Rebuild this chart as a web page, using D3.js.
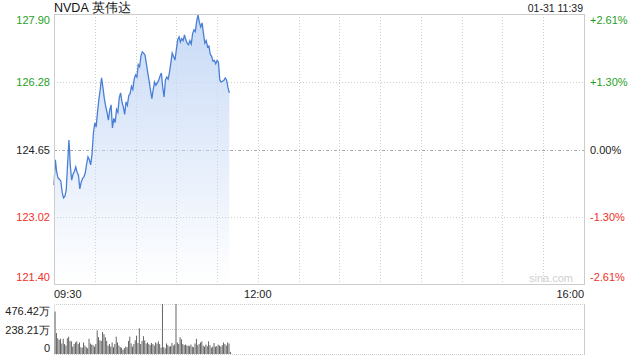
<!DOCTYPE html>
<html>
<head>
<meta charset="utf-8">
<script src="https://cdn.jsdelivr.net/npm/d3@7"></script>
<style>
  body { margin: 0; background: #fff; }
  svg text { font-family: "Liberation Sans", Arial, sans-serif; }
</style>
</head>
<body>
<div id="chart"></div>
<script>
const width = 640;
const height = 360;

// minutes after 09:30, one point per minute up to 11:39
const prices = [
    123.79, 124.40, 124.10, 123.96, 123.93, 123.89, 123.62, 123.48, 123.52, 123.67,
    124.30, 124.88, 124.25, 123.91, 124.05, 124.12, 124.23, 124.10, 124.03, 123.70,
    123.86, 123.95, 123.99, 124.08, 124.30, 124.47, 124.40, 124.28, 124.55, 125.05,
    125.29, 125.19, 125.55, 125.85, 126.10, 126.38, 126.15, 125.89, 125.70, 125.55,
    125.36, 125.60, 125.73, 125.17, 125.40, 125.30, 125.62, 125.55, 125.90, 126.02,
    125.80, 125.68, 125.50, 125.80, 125.72, 125.95, 126.00, 126.18, 126.10, 126.35,
    126.45, 126.40, 126.70, 126.65, 126.92, 127.01, 126.98, 126.93, 126.72, 126.50,
    126.30, 126.09, 125.88, 126.10, 126.28, 126.20, 126.26, 126.32, 126.42, 126.50,
    126.15, 125.92, 126.33, 126.40, 126.35, 126.52, 126.75, 126.98, 126.90, 126.81,
    127.05, 127.30, 127.37, 127.25, 127.33, 127.28, 127.42, 127.30, 127.22, 127.18,
    127.28, 127.20, 127.45, 127.54, 127.50, 127.75, 127.90, 127.72, 127.61, 127.71,
    127.45, 127.22, 127.28, 127.13, 127.15, 126.95, 126.90, 126.78, 126.80, 126.72,
    126.80, 126.76, 126.33, 126.28, 126.30, 126.32, 126.38, 126.33, 126.15, 126.02
];

// volume per minute, in 万
const volumes = [
    405, 200, 150, 135, 145, 100, 145, 95, 80, 150,
    165, 125, 120, 70, 95, 110, 120, 95, 110, 65,
    60, 110, 80, 65, 55, 145, 100, 90, 85, 70,
    95, 225, 160, 130, 125, 210, 190, 160, 125, 80,
    95, 70, 110, 65, 95, 165, 110, 80, 65, 60,
    40, 55, 70, 65, 125, 165, 100, 70, 95, 130,
    175, 105, 245, 95, 125, 170, 130, 100, 110, 95,
    85, 105, 95, 80, 110, 100, 120, 95, 60, 476.42,
    65, 55, 100, 85, 70, 75, 105, 80, 90, 476.42,
    110, 95, 160, 140, 95, 85, 90, 80, 80, 75,
    90, 70, 65, 100, 145, 85, 95, 110, 120, 80,
    70, 90, 75, 120, 85, 60, 70, 105, 70, 75,
    90, 80, 70, 85, 110, 95, 80, 110, 100, 20
];

const priceTicks = [127.90, 126.28, 124.65, 123.02, 121.40];
const pctTicks = ["+2.61%", "+1.30%", "0.00%", "-1.30%", "-2.61%"];
const prevClose = 124.65;
const volTicks = [476.42, 238.21, 0];
const volLabels = ["476.42万", "238.21万", "0"];
const timeLabels = [{ m: 0, t: "09:30" }, { m: 150, t: "12:00" }, { m: 390, t: "16:00" }];
const gridMinutes = d3.range(30, 390, 30);

const pLeft = 54, pRight = 584;
const pTop = 14, pBottom = 284;
const vTop = 304, vBottom = 354;

const x = d3.scaleLinear().domain([0, 390]).range([pLeft, pRight]);
const y = d3.scaleLinear().domain([121.40, 127.90]).range([pBottom, pTop + 1]);
const yv = d3.scaleLinear().domain([0, 476.42]).range([vBottom, vTop]);

const green = "#1f9f1f", red = "#f0302a", grid = "#cfcfcf";

const svg = d3.select("#chart").append("svg")
    .attr("width", width)
    .attr("height", height);

const grad = svg.append("defs").append("linearGradient")
    .attr("id", "fill")
    .attr("gradientUnits", "userSpaceOnUse")
    .attr("x1", 0).attr("y1", pTop).attr("x2", 0).attr("y2", pBottom);
grad.append("stop").attr("offset", 0).attr("stop-color", "#c8daf6");
grad.append("stop").attr("offset", 1).attr("stop-color", "#c8daf6").attr("stop-opacity", 0);

// vertical grid
svg.selectAll(".vg")
    .data(gridMinutes)
    .join("line")
    .attr("x1", d => Math.round(x(d)) + 0.5).attr("x2", d => Math.round(x(d)) + 0.5)
    .attr("y1", pTop).attr("y2", pBottom)
    .attr("stroke", grid)
    .attr("stroke-dasharray", "1,2");

// horizontal grid
svg.selectAll(".hg")
    .data(priceTicks.slice(1, 4))
    .join("line")
    .attr("x1", pLeft).attr("x2", pRight)
    .attr("y1", d => Math.round(y(d)) + 0.5).attr("y2", d => Math.round(y(d)) + 0.5)
    .attr("stroke", d => d === prevClose ? "#aaa" : grid)
    .attr("stroke-dasharray", d => d === prevClose ? "3,2,1,2" : "1,2");

// area + line
const area = d3.area()
    .x((d, i) => x(i))
    .y0(pBottom)
    .y1(d => y(d));
svg.append("path")
    .datum(prices)
    .attr("d", area)
    .attr("fill", "url(#fill)");

const line = d3.line()
    .x((d, i) => x(i))
    .y(d => y(d));
svg.append("path")
    .datum(prices)
    .attr("d", line)
    .attr("fill", "none")
    .attr("stroke", "#4a7fd6")
    .attr("stroke-width", 1.3);

// border
svg.append("rect")
    .attr("x", pLeft + 0.5).attr("y", pTop + 0.5)
    .attr("width", pRight - pLeft).attr("height", pBottom - pTop)
    .attr("fill", "none")
    .attr("stroke", "#cccccc");

// left price labels
svg.selectAll(".pl")
    .data(priceTicks)
    .join("text")
    .attr("x", pLeft - 4)
    .attr("y", (d, i) => i === 0 ? y(d) + 9 : i === 4 ? y(d) - 3 : y(d) + 4)
    .attr("text-anchor", "end")
    .attr("font-size", 11)
    .attr("fill", d => d > prevClose ? green : d < prevClose ? red : "#222")
    .text(d => d.toFixed(2));

// right pct labels
svg.selectAll(".rl")
    .data(priceTicks)
    .join("text")
    .attr("x", pRight + 6)
    .attr("y", (d, i) => i === 0 ? y(d) + 9 : i === 4 ? y(d) - 3 : y(d) + 4)
    .attr("font-size", 11)
    .attr("fill", d => d > prevClose ? green : d < prevClose ? red : "#222")
    .text((d, i) => pctTicks[i]);

// time labels
svg.selectAll(".tl")
    .data(timeLabels)
    .join("text")
    .attr("x", d => x(d.m))
    .attr("y", 298)
    .attr("text-anchor", (d, i) => i === 0 ? "start" : i === 2 ? "end" : "middle")
    .attr("font-size", 11)
    .attr("fill", "#222")
    .text(d => d.t);

// title and date
svg.append("text")
    .attr("x", pLeft).attr("y", 12)
    .attr("font-size", 12.5)
    .attr("fill", "#111")
    .text("NVDA 英伟达");
svg.append("text")
    .attr("x", pRight - 1).attr("y", 12)
    .attr("text-anchor", "end")
    .attr("font-size", 10.5)
    .attr("fill", "#222")
    .text("01-31 11:39");

// watermark
svg.append("text")
    .attr("x", pRight - 11).attr("y", pBottom - 2)
    .attr("text-anchor", "end")
    .attr("font-size", 11)
    .attr("fill", "#cfcfcf")
    .text("sina.com");

// volume panel
svg.selectAll(".vgl")
    .data(volTicks)
    .join("line")
    .attr("x1", pLeft).attr("x2", pRight)
    .attr("y1", d => Math.round(yv(d)) + 0.5).attr("y2", d => Math.round(yv(d)) + 0.5)
    .attr("stroke", grid)
    .attr("stroke-dasharray", "1,1");

svg.append("line")
    .attr("x1", pRight + 0.5).attr("x2", pRight + 0.5)
    .attr("y1", vTop).attr("y2", vBottom + 1)
    .attr("stroke", "#ccc");
svg.append("line")
    .attr("x1", pLeft + 0.5).attr("x2", pLeft + 0.5)
    .attr("y1", vTop).attr("y2", vBottom + 1)
    .attr("stroke", "#e3e3e3");

svg.selectAll(".bar")
    .data(volumes)
    .join("rect")
    .attr("x", (d, i) => x(i) + 0.6)
    .attr("y", d => yv(d))
    .attr("width", 0.9)
    .attr("height", d => vBottom - yv(d))
    .attr("fill", "#555");

svg.selectAll(".vl")
    .data(volTicks)
    .join("text")
    .attr("x", pLeft - 4)
    .attr("y", (d, i) => i === 0 ? yv(d) + 11 : i === 2 ? yv(d) - 2 : yv(d) + 5)
    .attr("text-anchor", "end")
    .attr("font-size", 11)
    .attr("fill", "#222")
    .text((d, i) => volLabels[i]);
</script>
</body>
</html>
